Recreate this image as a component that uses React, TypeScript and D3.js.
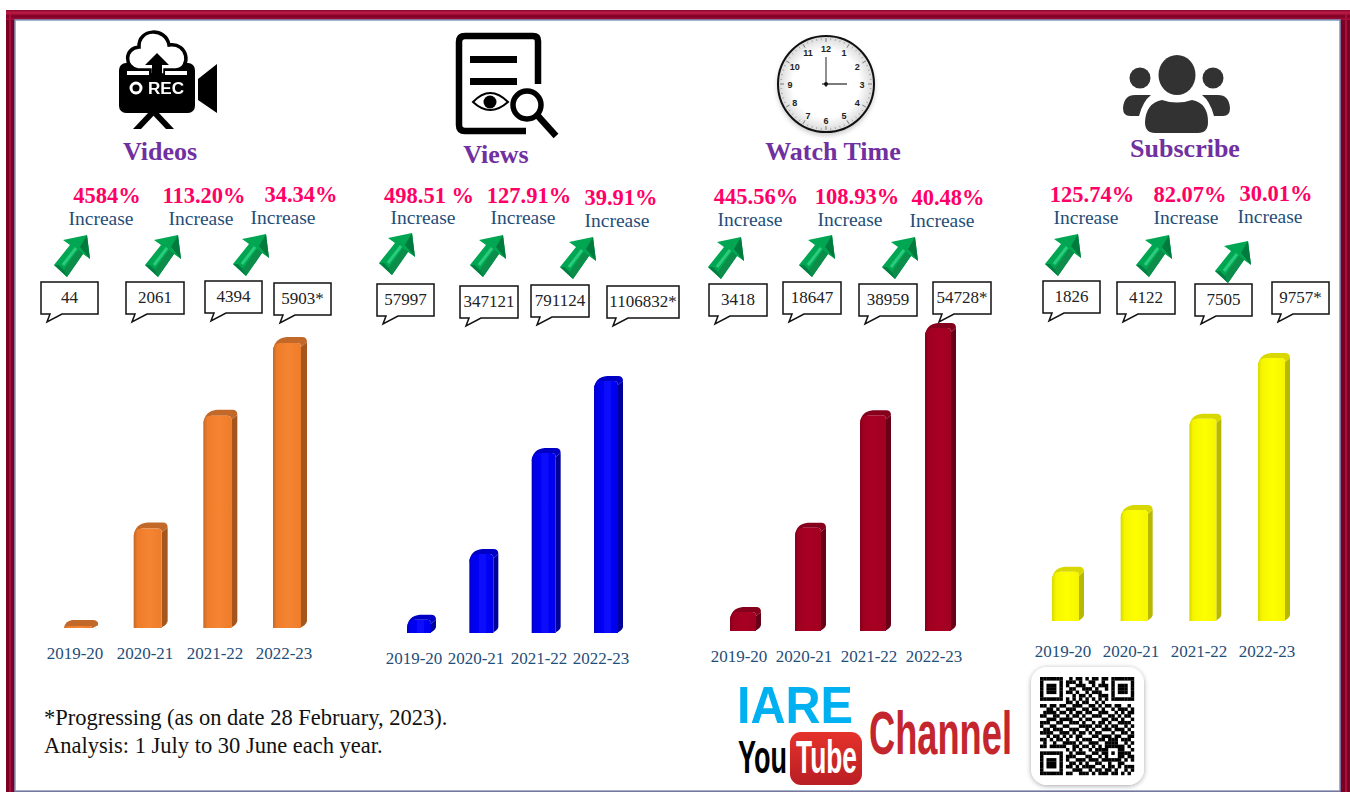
import React from "react";
import * as d3 from "d3";

const years = ["2019-20", "2020-21", "2021-22", "2022-23"];
const titles = ["Videos", "Views", "Watch Time", "Subscribe"];
const videosValues = [44, 2061, 4394, 5903];
const viewsValues = [57997, 347121, 791124, 1106832];
const watchValues = [3418, 18647, 38959, 54728];
const subscribeValues = [1826, 4122, 7505, 9757];
const videosCallouts = ["44", "2061", "4394", "5903*"];
const viewsCallouts = ["57997", "347121", "791124", "1106832*"];
const watchCallouts = ["3418", "18647", "38959", "54728*"];
const subscribeCallouts = ["1826", "4122", "7505", "9757*"];
const videosGrowth = ["4584%", "113.20%", "34.34%"];
const viewsGrowth = ["498.51 %", "127.91%", "39.91%"];
const watchGrowth = ["445.56%", "108.93%", "40.48%"];
const subscribeGrowth = ["125.74%", "82.07%", "30.01%"];

const panels = [
  { title: titles[0], tx: 160, ty: 160, values: videosValues, callouts: videosCallouts, growth: videosGrowth,
    xr: [64, 307], base: 628, top: 343, bw: 28, d: 6, lx: [75, 145, 215, 284], ly: 659,
    c: ["#ee7c2b", "#f58431", "#a5561d", "#c2692a"],
    boxes: [[41, 282, 57], [126, 282, 58], [205, 281, 57], [274, 283, 57]],
    gx: [107, 204, 301], gy: [203, 203, 202], ix: [101, 201, 283], iy: [225, 225, 224],
    ax: [72, 163, 251], ay: [256, 256, 255] },
  { title: titles[1], tx: 496, ty: 163, values: viewsValues, callouts: viewsCallouts, growth: viewsGrowth,
    xr: [407, 623], base: 633, top: 381, bw: 24, d: 5, lx: [414, 476, 539, 601], ly: 664,
    c: ["#0000e8", "#0a0aff", "#00009a", "#0000c4"],
    boxes: [[377, 284, 57], [460, 286, 58], [531, 285, 58], [607, 286, 72]],
    gx: [429, 529, 621], gy: [203, 203, 205], ix: [423, 523, 617], iy: [224, 224, 227],
    ax: [397, 488, 578], ay: [254, 256, 258] },
  { title: titles[2], tx: 833, ty: 160, values: watchValues, callouts: watchCallouts, growth: watchGrowth,
    xr: [730, 956], base: 631, top: 328, bw: 26, d: 5, lx: [739, 804, 869, 934], ly: 662,
    c: ["#a00020", "#a80024", "#680016", "#85001b"],
    boxes: [[709, 284, 58], [783, 282, 58], [859, 284, 58], [933, 282, 58]],
    gx: [756, 857, 948], gy: [204, 204, 205], ix: [750, 850, 942], iy: [226, 226, 227],
    ax: [726, 817, 900], ay: [258, 256, 258] },
  { title: titles[3], tx: 1185, ty: 157, values: subscribeValues, callouts: subscribeCallouts, growth: subscribeGrowth,
    xr: [1052, 1290], base: 621, top: 358, bw: 27, d: 5, lx: [1063, 1131, 1199, 1267], ly: 657,
    c: ["#f5f500", "#ffff00", "#b8b800", "#d8d800"],
    boxes: [[1043, 281, 57], [1117, 282, 58], [1195, 284, 57], [1272, 282, 57]],
    gx: [1092, 1190, 1276], gy: [202, 202, 201], ix: [1086, 1186, 1270], iy: [224, 224, 223],
    ax: [1063, 1154, 1233], ay: [255, 256, 262] },
];

const qrRows = [
  "11111110010110101101101111111",
  "10000010111010011001001000001",
  "10111010100111001011101011101",
  "10111010011001110100101011101",
  "10111010110100101110001011101",
  "10000010001011010011101000001",
  "11111110101010101010101111111",
  "00000000110101100101000000000",
  "11011011001110011010110110010",
  "00110100111001101101001011101",
  "01111011010110110011100101011",
  "11001100101101001110011010110",
  "00111011110010110001101101001",
  "11100110011101001011010011110",
  "10011001100011110110101100101",
  "01101110011100101001110111010",
  "11110011101011010110001001101",
  "00101101010110001101110110011",
  "11010110100101110011011101110",
  "01001001111010011100111100101",
  "11011111001101101010111111010",
  "00000000101010010111100011001",
  "11111110010111001101101011110",
  "10000010111000110010100011011",
  "10111010100111011101111110101",
  "10111010011010100110010011000",
  "10111010110101111001011010111",
  "10000010001110010110110100101",
  "11111110110011101011101101010",
];

const clockNums = [12, 1, 2, 3, 4, 5, 6, 7, 8, 9, 10, 11];

function Bar({ x, w, yTop, y0, d, c, id }: any) {
  const h = y0 - yTop;
  const r = Math.min(h, 8);
  const r2 = Math.min(h, 4);
  const xr = x + w;
  const front = `M${x},${y0} L${x},${yTop + r} Q${x},${yTop} ${x + r},${yTop} L${xr - r2},${yTop} Q${xr},${yTop} ${xr},${yTop + r2} L${xr},${y0} Z`;
  const side = `M${xr},${yTop + r2} L${xr + d},${yTop - d + 5} L${xr + d},${y0 - d - 1} Q${xr + d - 1},${y0 - 2} ${xr - 2},${y0} L${xr},${y0} Z`;
  const topFace = `M${x},${yTop + r} Q${x + 1},${yTop - d + 1} ${x + r + d},${yTop - d} L${xr + d - 5},${yTop - d} Q${xr + d},${yTop - d} ${xr + d},${yTop - d + 5} L${xr},${yTop + r2} Q${xr},${yTop} ${xr - r2},${yTop} L${x + r},${yTop} Z`;
  return (
    <g filter="url(#tiny)">
      <path d={side} fill={c[2]} />
      <path d={topFace} fill={c[3]} />
      <path d={front} fill={`url(#${id})`} />
    </g>
  );
}

function Arrow({ cx, cy }: any) {
  const p = (pts: number[][]) => pts.map(([a, b]) => `${cx + a},${cy + b}`).join(" ");
  return (
    <g filter="url(#tiny)">
      <polygon points={p([[15, -21], [-9, -16], [-2, -11], [-18, 9], [-5, 21], [11, -2], [18, 3]])} fill="#00a651" />
      <polygon points={p([[15, -21], [18, 3], [8, -9]])} fill="#047a3e" />
      <polygon points={p([[11, -2], [-5, 21], [-8, 14], [6, -6]])} fill="#078d4a" />
      <polygon points={p([[-18, 9], [-5, 21], [-8, 14], [-13, 9]])} fill="#048042" />
      <line x1={cx - 9} y1={cy + 9} x2={cx + 4} y2={cy - 8} stroke="#2ccb7c" strokeWidth={3} />
    </g>
  );
}

function Callout({ x, y, w, label }: any) {
  const h = 32;
  return (
    <g>
      <path d={`M${x},${y} H${x + w} V${y + h} H${x + 21} L${x + 6},${y + h + 8} L${x + 9},${y + h} H${x} Z`} fill="#fff" stroke="#111" strokeWidth={1.5} />
      <text x={x + w / 2} y={y + 21} textAnchor="middle" fontSize={17} fill="#222" fontFamily="Liberation Serif">{label}</text>
    </g>
  );
}

function CameraIcon() {
  return (
    <g filter="url(#tiny)">
      <rect x={119} y={63} width={76} height={50} rx={7} fill="#000" />
      <polygon points="198,79 217,64 217,113 198,100" fill="#000" />
      <polygon points="133,129 149,112 157,112 141,129" fill="#000" />
      <polygon points="174,129 166,129 150,112 158,112" fill="#000" />
      <path d="M138,70 C124,68 124,48 139,47 C138,28 166,27 169,45 C188,42 192,68 176,70 H165 V75 H150 V70 Z" fill="#fff" stroke="#000" strokeWidth={3.5} />
      <polygon points="157,53 169,65 162,65 162,78 152,78 152,65 145,65" fill="#000" />
      <rect x={127} y={71} width={22} height={4} fill="#fff" />
      <rect x={165} y={71} width={22} height={4} fill="#fff" />
      <circle cx={136} cy={88} r={5} fill="none" stroke="#fff" strokeWidth={3} />
      <text x={148} y={94} fontSize={16} fontWeight={700} fill="#fff" fontFamily="Liberation Sans" textLength={36} lengthAdjust="spacingAndGlyphs">REC</text>
    </g>
  );
}

function ViewsIcon() {
  return (
    <g filter="url(#tiny)">
      <path d="M538,84 V41 Q538,36 533,36 H465 Q459,36 459,42 V125 Q459,131 465,131 H526" fill="none" stroke="#000" strokeWidth={6.5} />
      <rect x={470} y={56} width={47} height={7} fill="#000" />
      <rect x={470} y={78} width={47} height={7} fill="#000" />
      <path d="M473,102 Q490,84 508,102 Q490,118 473,102 Z" fill="#fff" stroke="#000" strokeWidth={2} />
      <circle cx={490} cy={102} r={6.5} fill="#000" />
      <circle cx={527} cy={105} r={14} fill="#fff" stroke="#000" strokeWidth={5.5} />
      <line x1={538} y1={116} x2={556} y2={136} stroke="#000" strokeWidth={6.5} />
    </g>
  );
}

function ClockIcon() {
  const cx = 826, cy = 84, R = 48;
  const minuteTicks = d3.range(60);
  return (
    <g>
      <circle cx={cx} cy={cy + 3} r={R + 1} fill="#999" opacity={0.45} filter="url(#soft)" />
      <circle cx={cx} cy={cy} r={R} fill="url(#clockFace)" stroke="#111" strokeWidth={2} />
      {minuteTicks.map((m) => {
        const a = (m * Math.PI) / 30;
        const len = m % 5 === 0 ? 4 : 2;
        return (
          <line key={m} x1={cx + Math.sin(a) * (R - 2)} y1={cy - Math.cos(a) * (R - 2)} x2={cx + Math.sin(a) * (R - 2 - len)} y2={cy - Math.cos(a) * (R - 2 - len)} stroke="#777" strokeWidth={m % 5 === 0 ? 1 : 0.5} />
        );
      })}
      {clockNums.map((n, i) => {
        const a = (i * Math.PI) / 6;
        return (
          <text key={n} x={cx + Math.sin(a) * 36} y={cy - Math.cos(a) * 36 + 3.5} textAnchor="middle" fontSize={9} fontWeight={700} fill="#222" fontFamily="Liberation Sans Narrow, Liberation Sans">{n}</text>
        );
      })}
      <line x1={cx} y1={cy + 3} x2={cx} y2={cy - 27} stroke="#222" strokeWidth={1} />
      <line x1={cx - 4} y1={cy} x2={cx + 21} y2={cy} stroke="#222" strokeWidth={1.2} />
      <circle cx={cx} cy={cy} r={2} fill="#111" />
    </g>
  );
}

function PeopleIcon() {
  const f = "#333";
  return (
    <g fill={f} filter="url(#tiny)">
      <ellipse cx={1177} cy={75} rx={18.5} ry={20} />
      <circle cx={1140} cy={78} r={10.5} />
      <circle cx={1213} cy={78} r={10.5} />
      <path d="M1145,122 Q1146,103 1162,100 Q1177,105 1192,100 Q1208,103 1208,122 Q1208,133 1198,133 H1155 Q1145,133 1145,122 Z" />
      <path d="M1123,108 Q1124,95 1135,95 H1151 Q1143,101 1139,116 H1130 Q1123,116 1123,108 Z" />
      <path d="M1230,108 Q1229,95 1218,95 H1202 Q1210,101 1214,116 H1223 Q1230,116 1230,108 Z" />
    </g>
  );
}

function Logo() {
  return (
    <g>
      <text x={737} y={723} fontSize={52} fontWeight={700} fill="#00b0f0" fontFamily="Liberation Sans" textLength={116} lengthAdjust="spacingAndGlyphs">IARE</text>
      <text transform="translate(738,773) scale(1,1.7)" fontSize={27} fontWeight={700} fill="#000" fontFamily="Liberation Sans" textLength={49} lengthAdjust="spacingAndGlyphs">You</text>
      <rect x={790} y={732} width={72} height={53} rx={11} fill="url(#ytRed)" />
      <text transform="translate(796,773) scale(1,1.7)" fontSize={27} fontWeight={700} fill="#fff" fontFamily="Liberation Sans" textLength={61} lengthAdjust="spacingAndGlyphs">Tube</text>
      <text transform="translate(869,754) scale(1,1.65)" fontSize={37} fontWeight={700} fill="#c4262e" fontFamily="Liberation Sans" textLength={143} lengthAdjust="spacingAndGlyphs">Channel</text>
    </g>
  );
}

function QrCard() {
  const n = qrRows.length;
  const sx = d3.scaleBand<number>().domain(d3.range(n)).range([1040, 1134]);
  const sy = d3.scaleBand<number>().domain(d3.range(n)).range([677, 775]);
  return (
    <g>
      <rect x={1031} y={667} width={113} height={118} rx={16} fill="#fff" filter="url(#cardShadow)" />
      <g filter="url(#tiny)">
        {qrRows.map((row, r) =>
          row.split("").map((ch, c) =>
            ch === "1" ? <rect key={`${r}-${c}`} x={sx(c)} y={sy(r)} width={sx.bandwidth() + 0.2} height={sy.bandwidth() + 0.2} fill="#000" /> : null
          )
        )}
      </g>
    </g>
  );
}

export default function App() {
  const serif = "Liberation Serif";
  return (
    <svg width={1350} height={792} style={{ position: "absolute", left: 0, top: 0, display: "block", background: "#fff" }} fontFamily={serif}>
      <defs>
        {panels.map((p, i) => (
          <linearGradient key={i} id={`front${i}`} x1="0" x2="1" y1="0" y2="0">
            <stop offset="0" stopColor={p.c[3]} />
            <stop offset="0.14" stopColor={p.c[0]} />
            <stop offset="0.55" stopColor={p.c[1]} />
            <stop offset="1" stopColor={p.c[0]} />
          </linearGradient>
        ))}
        <radialGradient id="clockFace">
          <stop offset="0.7" stopColor="#fff" />
          <stop offset="1" stopColor="#d8d8d8" />
        </radialGradient>
        <linearGradient id="ytRed" x1="0" x2="0" y1="0" y2="1">
          <stop offset="0" stopColor="#e5322b" />
          <stop offset="1" stopColor="#b81e24" />
        </linearGradient>
        <linearGradient id="topBand" x1="0" x2="0" y1="0" y2="1">
          <stop offset="0" stopColor="#8a0a2e" />
          <stop offset="0.3" stopColor="#c01a48" />
          <stop offset="0.6" stopColor="#7a0024" />
          <stop offset="1" stopColor="#a80f3c" />
        </linearGradient>
        <filter id="soft" x="-20%" y="-20%" width="140%" height="140%">
          <feGaussianBlur stdDeviation={2} />
        </filter>
        <filter id="tiny" x="-10%" y="-10%" width="120%" height="120%">
          <feGaussianBlur stdDeviation={0.5} />
        </filter>
        <filter id="cardShadow" x="-15%" y="-15%" width="130%" height="130%">
          <feDropShadow dx={0} dy={1} stdDeviation={2.5} floodColor="#000" floodOpacity={0.35} />
        </filter>
      </defs>

      <rect x={6} y={10} width={1344} height={782} fill="#7a0024" />
      <rect x={6} y={10} width={1344} height={10} fill="url(#topBand)" />
      <rect x={9} y={14} width={2} height={778} fill="#a80f3c" />
      <rect x={1345} y={14} width={2} height={778} fill="#a80f3c" />
      <rect x={15} y={20} width={1325} height={771} fill="#fff" stroke="#7f9ac0" strokeWidth={1.5} />

      <CameraIcon />
      <ViewsIcon />
      <ClockIcon />
      <PeopleIcon />

      {panels.map((p, i) => {
        const x = d3.scalePoint<string>().domain(years).range([p.xr[0], p.xr[1] - p.bw - p.d]);
        const y = d3.scaleLinear().domain([0, d3.max(p.values) as number]).range([p.base, p.top]);
        return (
          <g key={p.title}>
            <text x={p.tx} y={p.ty} textAnchor="middle" fontSize={26} fontWeight={700} fill="#7030a0">{p.title}</text>
            {p.growth.map((g, j) => (
              <g key={g}>
                <text x={p.gx[j]} y={p.gy[j]} textAnchor="middle" fontSize={22.5} fontWeight={700} fill="#ff0066">{g}</text>
                <text x={p.ix[j]} y={p.iy[j]} textAnchor="middle" fontSize={19.5} fill="#1f4e79">Increase</text>
                <Arrow cx={p.ax[j]} cy={p.ay[j]} />
              </g>
            ))}
            {p.callouts.map((c, j) => (
              <Callout key={c} x={p.boxes[j][0]} y={p.boxes[j][1]} w={p.boxes[j][2]} label={c} />
            ))}
            {years.map((yr, j) => (
              <g key={yr}>
                <Bar x={x(yr) as number} w={p.bw} yTop={y(p.values[j])} y0={p.base} d={p.d} c={p.c} id={`front${i}`} />
                <text x={p.lx[j]} y={p.ly} textAnchor="middle" fontSize={17} fill="#1f4e79">{yr}</text>
              </g>
            ))}
          </g>
        );
      })}

      <text x={44} y={725} fontSize={22.5} fill="#111">*Progressing (as on date 28 February, 2023).</text>
      <text x={44} y={753} fontSize={22.5} fill="#111">Analysis: 1 July to 30 June each year.</text>

      <Logo />
      <QrCard />
    </svg>
  );
}
